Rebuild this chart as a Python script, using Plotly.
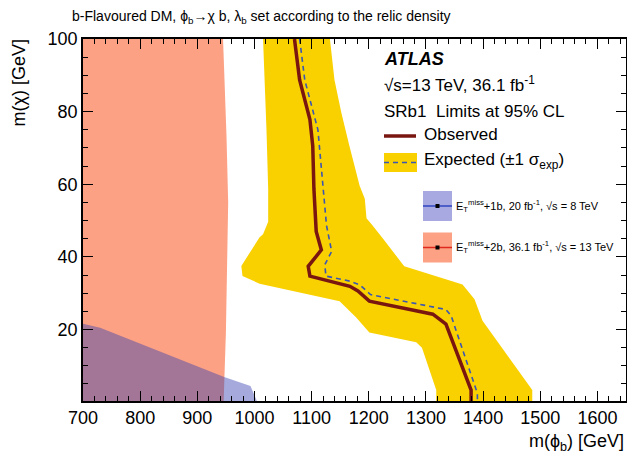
import plotly.graph_objects as go

# ---------------- data ----------------
# Observed limit
obs_x = [1070, 1079, 1097, 1102, 1104, 1108, 1117, 1094, 1097, 1149, 1167, 1181, 1201, 1312, 1335, 1379, 1379]
obs_y = [100, 88.7, 77.8, 70.5, 58.7, 47.0, 41.9, 37.4, 34.7, 32.8, 31.9, 30.6, 27.8, 24.2, 21.5, 3.3, 0]

# Expected limit
exp_x = [1079, 1088, 1111, 1121, 1126, 1135, 1123, 1125, 1167, 1185, 1203, 1335, 1344, 1390, 1390]
exp_y = [100, 88.7, 75.0, 58.7, 48.7, 41.5, 37.8, 34.7, 33.3, 32.2, 29.6, 25.5, 23.8, 2.4, 0]

# +-1 sigma band (closed contour)
band_x = [1015, 1021, 1024, 1024, 1015, 1009, 977, 979, 1009, 1149, 1178, 1201, 1283, 1293, 1318, 1318,
          1486, 1486, 1399, 1385, 1364, 1262, 1225, 1207, 1196, 1193, 1184, 1166, 1152, 1140, 1132]
band_y = [100, 75, 58.7, 49.7, 46.2, 45.4, 37.5, 34.7, 32.6, 27.8, 23.3, 19.2, 16.5, 15.0, 3.3, 0,
          0, 3.3, 22.4, 28.3, 32.4, 37.4, 45.0, 48.6, 50.6, 56.0, 59.6, 70.6, 79.7, 88.7, 100]

# ETmiss+2b 13 TeV excluded region
red_x = [700, 700, 945, 951, 954, 952, 950, 946]
red_y = [0, 100, 100, 73.5, 55, 37, 19, 0]

# ETmiss+1b 8 TeV excluded region
blue_x = [700, 700, 730, 947, 993, 1005]
blue_y = [0, 21.6, 20.5, 6.9, 4.4, 0]

x_range = [700, 1650]
y_range = [0.3, 100]
x_ticks = [700, 800, 900, 1000, 1100, 1200, 1300, 1400, 1500, 1600]
y_ticks = [20, 40, 60, 80, 100]

# ---------------- styles ----------------
FONT = "Liberation Sans, Arial, Helvetica, sans-serif"
SALMON = "#FCA184"
BLUE_FILL = "rgba(55,65,175,0.45)"
YELLOW = "#F9D100"
OBS = "#791610"
EXP = "#3A56B4"

fig = go.Figure()
fig.add_trace(go.Scatter(x=red_x, y=red_y, fill="toself", fillcolor=SALMON, mode="none",
                         showlegend=False, hoverinfo="skip"))
fig.add_trace(go.Scatter(x=blue_x, y=blue_y, fill="toself", fillcolor=BLUE_FILL, mode="none",
                         showlegend=False, hoverinfo="skip"))
fig.add_trace(go.Scatter(x=band_x, y=band_y, fill="toself", fillcolor=YELLOW, mode="none",
                         showlegend=False, hoverinfo="skip"))
fig.add_trace(go.Scatter(x=exp_x, y=exp_y, mode="lines",
                         line=dict(color=EXP, width=1.6, dash="5px,4px"),
                         showlegend=False, hoverinfo="skip"))
fig.add_trace(go.Scatter(x=obs_x, y=obs_y, mode="lines",
                         line=dict(color=OBS, width=3.5),
                         showlegend=False, hoverinfo="skip"))

axis_common = dict(showline=True, linecolor="black", linewidth=1.6, mirror="ticks",
                   ticks="inside", ticklen=10, tickwidth=1.2, tickcolor="black",
                   showgrid=False, zeroline=False,
                   tickfont=dict(family=FONT, size=18, color="black"))

fig.update_xaxes(range=x_range, tickvals=x_ticks, ticktext=[str(v) for v in x_ticks],
                 minor=dict(ticks="inside", dtick=20, tick0=700, ticklen=5, tickwidth=1, tickcolor="black"),
                 **axis_common)
fig.update_yaxes(range=y_range, tickvals=y_ticks, ticktext=[str(v) for v in y_ticks],
                 minor=dict(ticks="inside", dtick=5, tick0=0, ticklen=5, tickwidth=1, tickcolor="black"),
                 **axis_common)

W, H = 627, 461
L, R, T, B = 83, 1, 39, 60
pw, ph = W - L - R, H - T - B

def px(xp):
    return (xp - L) / pw

def py(yp):
    return (H - B - yp) / ph

ann = []
def text(xp, yp, s, size, xanchor="left", yanchor="middle", angle=0):
    ann.append(dict(xref="paper", yref="paper", x=px(xp), y=py(yp), text=s, showarrow=False,
                    xanchor=xanchor, yanchor=yanchor, textangle=angle,
                    font=dict(family=FONT, size=size, color="black")))

# titles
text(70, 17, "b-Flavoured DM, ϕ<sub>b</sub>→χ b, λ<sub>b</sub> set according to the relic density", 14)
text(626, 442, "m(ϕ<sub>b</sub>) [GeV]", 18, xanchor="right")
text(18, 38, "m(χ) [GeV]", 18, xanchor="center", yanchor="top", angle=-90)

# legend block
text(382, 58.5, "<b><i>ATLAS</i></b>", 18)
text(382, 83.5, "√s=13 TeV, 36.1 fb<sup>-1</sup>", 17)
text(382, 111.5, "SRb1  Limits at 95% CL", 17)
text(422, 134, "Observed", 17)
text(422, 161, "Expected (±1 σ<sub>exp</sub>)", 17)
text(454, 206, "E<sub>T</sub><sup>miss</sup>+1b, 20 fb<sup>-1</sup>, √s = 8 TeV", 11)
text(454, 247.5, "E<sub>T</sub><sup>miss</sup>+2b, 36.1 fb<sup>-1</sup>, √s = 13 TeV", 11)

shapes = []
def rect(x0, y0, x1, y1, color):
    shapes.append(dict(type="rect", xref="paper", yref="paper", x0=px(x0), x1=px(x1),
                       y0=py(y1), y1=py(y0), fillcolor=color, line=dict(width=0), layer="above"))

def hline(x0, x1, yp, color, width, dash="solid"):
    shapes.append(dict(type="line", xref="paper", yref="paper", x0=px(x0), x1=px(x1),
                       y0=py(yp), y1=py(yp), line=dict(color=color, width=width, dash=dash), layer="above"))

hline(384, 416, 136, OBS, 3.5)
rect(384, 153, 417, 172, YELLOW)
hline(384, 417, 162.5, EXP, 1.6, "5px,4px")

rect(423, 191, 452, 221, "#A9A9E2")
hline(423, 452, 206, "#3046C0", 1.5)
rect(435.5, 204, 439.5, 208, "black")
rect(423, 232.5, 452, 262.5, SALMON)
hline(423, 452, 247.5, "#E0281E", 1.5)
rect(435.5, 245.5, 439.5, 249.5, "black")

fig.update_layout(width=W, height=H, margin=dict(l=L, r=R, t=T, b=B, autoexpand=False),
                  paper_bgcolor="white", plot_bgcolor="white",
                  annotations=ann, shapes=shapes, showlegend=False,
                  font=dict(family=FONT, color="black"))

fig.write_html("out.html", config={"displayModeBar": False},
               post_script="document.body.style.margin='0px';document.body.style.overflow='hidden';")
